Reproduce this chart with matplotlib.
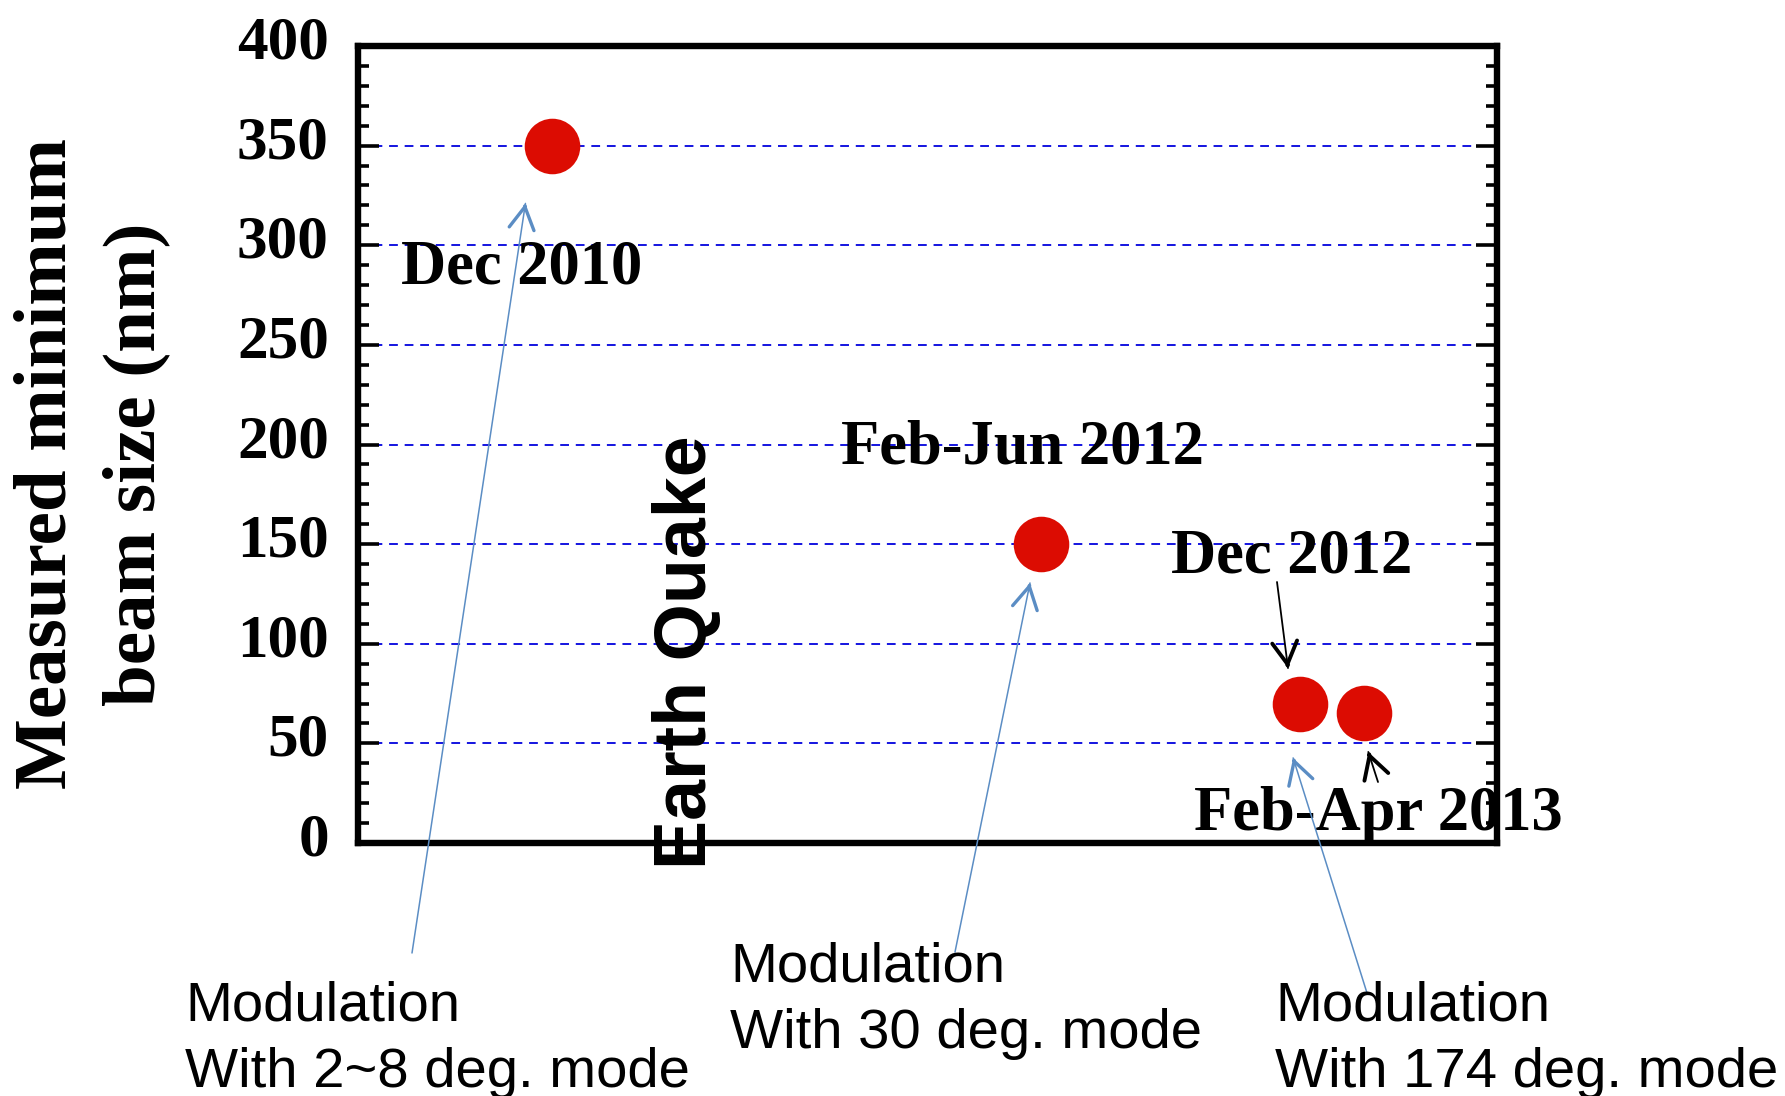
import numpy as np
import matplotlib
matplotlib.use("Agg")
import matplotlib.pyplot as plt
from matplotlib.ticker import MultipleLocator
from matplotlib.transforms import ScaledTranslation

# measured minimum beam size for each run period
periods = ["Dec 2010", "Feb-Jun 2012", "Dec 2012", "Feb-Apr 2013"]
x_pos = [17.0, 60.0, 82.7, 88.3]          # position along the (unlabelled) time axis
beam_size = [350, 150, 70, 65]            # nm

y_ticks = [0, 50, 100, 150, 200, 250, 300, 350, 400]

modes = ["Modulation\nWith 2~8 deg. mode",
         "Modulation\nWith 30 deg. mode",
         "Modulation\nWith 174 deg. mode"]

SERIF = "Liberation Serif"
SANS = "Liberation Sans"
RED = "#dc0c02"
BLUE_GRID = "#1414e0"
ARROW_BLUE = "#5b8dc4"

W, H = 1785, 1096
fig = plt.figure(figsize=(W / 100, H / 100), dpi=100)
ax = fig.add_axes([358 / W, 1 - 843 / H, 1139 / W, 797 / H])

ax.set_xlim(0, 100)
ax.set_ylim(0, 400)
ax.set_xticks([])
ax.set_yticks(y_ticks)
ax.yaxis.set_minor_locator(MultipleLocator(10))
ax.tick_params(axis="y", which="both", direction="in", left=True, right=True,
               width=2.6, color="black")
ax.tick_params(axis="y", which="major", length=15, pad=21, labelsize=44)
ax.tick_params(axis="y", which="minor", length=8)
lift = ScaledTranslation(0, 9 / 100, fig.dpi_scale_trans)
for t in ax.yaxis.get_major_ticks():
    t.label1.set_fontfamily(SERIF)
    t.label1.set_fontweight("bold")
    t.label1.set_transform(t.label1.get_transform() + lift)
for sp in ax.spines.values():
    sp.set_linewidth(4.6)

# dashed horizontal guides
for yv in y_ticks[1:-1]:
    ax.axhline(yv, color=BLUE_GRID, lw=1.4, ls=(0, (4.5, 3.5)), zorder=1)

ax.plot(x_pos, beam_size, "o", ms=40, color=RED, mec="none", zorder=3)

# period labels
label_xy = [(14.4, 281), (58.3, 190.5), (82.0, 136), (89.6, 6.5)]
for text, (lx, ly) in zip(periods, label_xy):
    ax.text(lx, ly, text, ha="center", va="baseline", fontsize=45,
            fontfamily=SERIF, fontweight="bold", zorder=4)

ax.text(28.8, 96, "Earth Quake", rotation=90, ha="center", va="center",
        fontsize=53, fontfamily=SANS, fontweight="bold", zorder=4)

fig.text(92 / W, 1 - 464 / H, "Measured minimum\nbeam size (nm)", rotation=90,
         ha="center", va="center", multialignment="center", linespacing=1.4,
         fontsize=54, fontfamily=SERIF, fontweight="bold")

# mode captions under the plot (y is the baseline of the last line)
caption_px = [(185, 1087), (730, 1048), (1275, 1087)]
for text, (cx, cy) in zip(modes, caption_px):
    fig.text(cx / W, 1 - cy / H, text, ha="left", va="baseline", fontsize=40.5,
             fontfamily=SANS, linespacing=1.36)


def pointer(tip, tail_px, color, lw, head_lw):
    """Thin shaft from a figure-pixel tail to a data-space tip, with a bolder head."""
    tail = (tail_px[0], H - tail_px[1])
    ax.annotate("", xy=tip, xycoords="data", xytext=tail, textcoords="figure pixels",
                arrowprops=dict(arrowstyle="-", color=color, lw=lw,
                                shrinkA=0, shrinkB=0),
                annotation_clip=False, zorder=5)
    tip_px = ax.transData.transform(tip)
    d = tip_px - np.array(tail)
    d = d / np.hypot(*d)
    start = tip_px - d * 3
    ax.annotate("", xy=tip, xycoords="data", xytext=start, textcoords="figure pixels",
                arrowprops=dict(arrowstyle="->,head_length=0.8,head_width=0.45",
                                mutation_scale=20, color=color, lw=head_lw,
                                shrinkA=0, shrinkB=0),
                annotation_clip=False, zorder=5)


# blue arrows from the captions up to the points
pointer((14.7, 321), (412, 953), ARROW_BLUE, 1.1, 2.4)
pointer((59.0, 130.5), (955, 952), ARROW_BLUE, 1.1, 2.4)
pointer((82.1, 42.7), (1367, 993), ARROW_BLUE, 1.1, 2.4)

# black arrows from the date labels
pointer((81.65, 87.8), (1277, 582), "black", 1.3, 2.8)
pointer((88.7, 45.7), (1378, 782), "black", 1.3, 2.8)

fig.savefig("out.png", dpi=100)
